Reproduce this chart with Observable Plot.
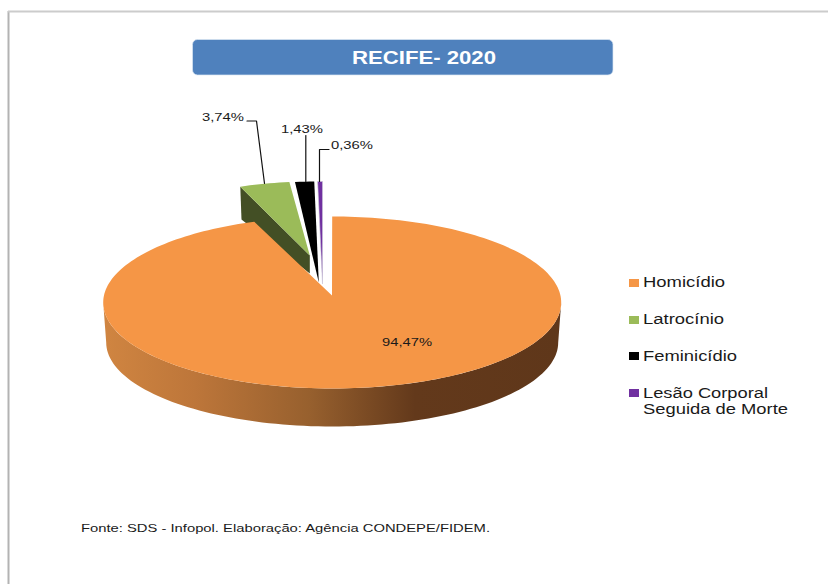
<!DOCTYPE html>
<html><head><meta charset="utf-8">
<style>html,body{margin:0;padding:0;background:#fff}svg{display:block}</style>
<script src="https://cdn.jsdelivr.net/npm/d3@7"></script>
<script src="https://cdn.jsdelivr.net/npm/@observablehq/plot@0.6"></script>
</head><body><script>
// Data
const categories = ["Homicídio", "Latrocínio", "Feminicídio", "Lesão Corporal Seguida de Morte"];
const shares = [94.47, 3.74, 1.43, 0.36];
const shareLabels = ["94,47%", "3,74%", "1,43%", "0,36%"];
const colors = ["#f59646", "#9bbb59", "#000000", "#7030a0"];
const titleText = "RECIFE- 2020";
const sourceText = "Fonte: SDS - Infopol. Elaboração: Agência CONDEPE/FIDEM.";

// Pie projection (one rim ellipse and apex per exploded slice)
const W = 828, H = 584, FONT = "Liberation Sans, Arial, sans-serif";
const sliceGeom = [
  {cx: 331.7, cy: 302, rx: 229, ry: 86, ax: 331.5, ay: 295},
  {cx: 313, cy: 267, rx: 215, ry: 86, ax: 309.3, ay: 255},
  {cx: 318.6, cy: 267, rx: 215, ry: 86, ax: 318.3, ay: 282},
  {cx: 322, cy: 267, rx: 215, ry: 86, ax: 322, ay: 283}
];
const total = d3.sum(shares);
let acc = 0;
const slices = shares.map((v, i) => {
  const a0 = acc / total * 2 * Math.PI; acc += v;
  const a1 = acc / total * 2 * Math.PI;
  const g = sliceGeom[i], n = Math.max(4, Math.ceil((a1 - a0) * 40));
  const rim = d3.range(n + 1).map(k => {
    const a = a0 + (a1 - a0) * k / n;
    return {x: g.cx + g.rx * Math.sin(a), y: g.cy - g.ry * Math.cos(a)};
  });
  return {name: categories[i], color: colors[i], g, rim,
          poly: [{x: g.ax, y: g.ay}, ...rim, {x: g.ax, y: g.ay}]};
});

// Curved outer wall of the large slice
const topG = sliceGeom[0];
const wallTop = d3.range(0, 101).map(k => {
  const a = Math.PI * k / 100;
  return {x: topG.cx - topG.rx * Math.cos(a), y: topG.cy + topG.ry * Math.sin(a)};
});
const wallBottom = d3.range(100, -1, -1).map(k => {
  const a = Math.PI * k / 100;
  return {x: topG.cx - 226 * Math.cos(a), y: 342 + 84 * Math.sin(a)};
});
const wall = [...wallTop, ...wallBottom, wallTop[0]];

// Dark cut side of the Latrocínio slice
const green = slices[1];
const greenSide = [green.rim[0], {x: 241, y: 219}, {x: 309.3, y: 273}, {x: green.g.ax, y: green.g.ay}, green.rim[0]];

// Leader lines
const leaders = [
  [{x: 246.5, y: 120.5}, {x: 256, y: 120.5}, {x: 264, y: 183}],
  [{x: 305.3, y: 135}, {x: 305.3, y: 181}],
  [{x: 328.5, y: 149}, {x: 319, y: 149}, {x: 319, y: 181}]
];

// Text layout: widths match the reference's stretched glyphs
const texts = [
  {t: titleText, x: 351.5, y: 57.5, size: 19, weight: "bold", fill: "#ffffff", w: 144},
  {t: shareLabels[0], x: 381.5, y: 341.5, size: 11, w: 50},
  {t: shareLabels[1], x: 201.5, y: 117, size: 11, w: 42},
  {t: shareLabels[2], x: 280.5, y: 129, size: 11, w: 42},
  {t: shareLabels[3], x: 330.5, y: 145, size: 11, w: 42},
  {t: categories[0], x: 642.5, y: 282.5, size: 14, w: 82},
  {t: categories[1], x: 642.5, y: 319, size: 14, w: 81},
  {t: categories[2], x: 642.5, y: 356, size: 14, w: 94},
  {t: "Lesão Corporal", x: 642.5, y: 393, size: 14, w: 125},
  {t: "Seguida de Morte", x: 642.5, y: 409, size: 14, w: 145},
  {t: sourceText, x: 80.5, y: 527.5, size: 11.5, w: 409}
];
const swatchY = [279, 316, 352, 389];
const swatches = categories.map((c, i) => ({c, color: colors[i], x1: 629, x2: 639, y1: swatchY[i], y2: swatchY[i] + 8}));

const gradientDefs = () => {
  const s = d3.create("svg:defs");
  const g = s.append("linearGradient").attr("id", "wallFill")
    .attr("gradientUnits", "userSpaceOnUse")
    .attr("x1", 103).attr("x2", 561).attr("y1", 0).attr("y2", 0);
  [[0, "#d08541"], [0.2, "#bd763a"], [0.45, "#97602e"], [0.68, "#63391b"], [1, "#5f371a"]]
    .forEach(([o, c]) => g.append("stop").attr("offset", o).attr("stop-color", c));
  return s.node();
};

const poly = (d, o) => Plot.line(d, {x: "x", y: "y", curve: "linear", ...o});

const chart = Plot.plot({
  width: W, height: H, margin: 0,
  x: {domain: [0, W], range: [0, W], axis: null},
  y: {domain: [0, H], range: [0, H], axis: null},
  style: {background: "#fff", fontFamily: FONT},
  marks: [
    gradientDefs,
    // frame
    Plot.ruleX([8], {y1: 11, y2: H, stroke: "#b3b3b3", strokeWidth: 2}),
    Plot.ruleY([11], {x1: 8, x2: W, stroke: "#cccccc", strokeWidth: 2}),
    // title box
    Plot.rect([{x1: 192.5, x2: 613, y1: 39.5, y2: 75}], {
      x1: "x1", x2: "x2", y1: "y1", y2: "y2", rx: 5, fill: "#4f81bd", stroke: "#dbe6f2", strokeWidth: 0.7
    }),
    // exploded slices
    poly(greenSide, {fill: "#434f25", stroke: "none"}),
    poly(slices[1].poly, {fill: colors[1], stroke: "none"}),
    poly(slices[2].poly, {fill: colors[2], stroke: "none"}),
    poly(slices[3].poly, {fill: colors[3], stroke: "#c9c4d6", strokeWidth: 0.6}),
    // main slice
    poly(wall, {fill: "url(#wallFill)", stroke: "none"}),
    poly(slices[0].poly, {fill: colors[0], stroke: "none"}),
    // leaders
    ...leaders.map(l => poly(l, {stroke: "#111111", strokeWidth: 1.2})),
    // legend swatches
    Plot.rect(swatches, {x1: "x1", x2: "x2", y1: "y1", y2: "y2", fill: "color"}),
    // texts
    ...texts.map(d => Plot.text([d], {
      x: "x", y: "y", text: "t", textAnchor: "start", lineAnchor: "middle",
      fontSize: d.size, fontWeight: d.weight || "normal", fill: d.fill || "#1a1a1a"
    }))
  ]
});

d3.select(chart).selectAll("text").each(function () {
  const label = this.textContent;
  const spec = texts.find(d => d.t === label);
  if (spec) {
    const target = this.querySelector("tspan") || this;
    target.setAttribute("textLength", spec.w);
    target.setAttribute("lengthAdjust", "spacingAndGlyphs");
  }
});
document.body.appendChild(chart);
</script></body></html>
